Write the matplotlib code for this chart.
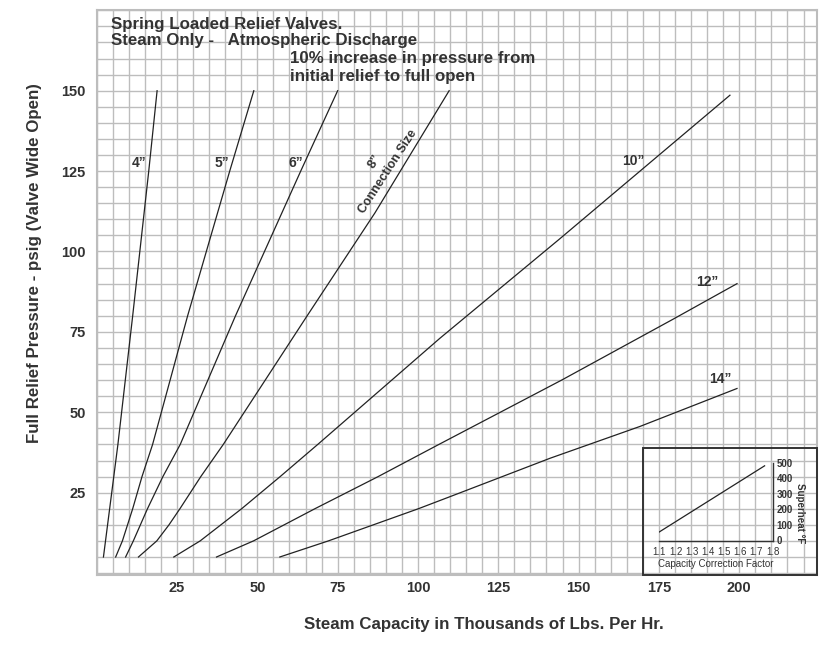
import matplotlib
matplotlib.use("Agg")
import matplotlib.pyplot as plt
from matplotlib.ticker import MultipleLocator, FixedLocator
from matplotlib.patches import Rectangle

plt.rcParams['font.family'] = ['Liberation Sans', 'DejaVu Sans']

# --- capacity curves: pressure (psig) vs steam capacity (1000 lb/hr) ---
p_4 = [5, 40, 80, 125, 150]
q_4 = [2.1, 6.6, 11.2, 16.2, 18.8]

p_5 = [5, 10, 15, 20, 30, 40, 80, 125, 150]
q_5 = [5.9, 8.0, 9.6, 11.2, 14.1, 17.4, 28.3, 41.4, 48.9]

p_6 = [5, 10, 15, 20, 30, 40, 80, 125, 150]
q_6 = [9.0, 11.4, 13.6, 15.8, 20.6, 26.0, 43.2, 63.5, 75.0]

p_8 = [5, 10, 15, 20, 30, 40, 80, 112, 150]
q_8 = [13.0, 18.7, 22.5, 25.9, 32.4, 39.4, 65.5, 86.6, 109.7]

p_10 = [5, 10, 20, 30, 40, 73, 104, 148.6]
q_10 = [24.0, 32.2, 45.1, 57.1, 68.8, 106.8, 144.2, 197.1]

p_12 = [5, 10, 20, 30, 40, 60, 79, 90]
q_12 = [37.3, 48.8, 67.9, 87.6, 106.5, 144.7, 179.5, 199.3]

p_14 = [5, 10, 15, 20, 24, 35.7, 45.6, 57.4]
q_14 = [57.0, 72.1, 86.1, 100.1, 110.6, 141.1, 169.1, 199.3]

curves = [(q_4, p_4), (q_5, p_5), (q_6, p_6), (q_8, p_8),
          (q_10, p_10), (q_12, p_12), (q_14, p_14)]

x_ticks = [25, 50, 75, 100, 125, 150, 175, 200]
y_ticks = [25, 50, 75, 100, 125, 150]

# size labels (text, x, y)
size_labels = [("4\u201d", 13.2, 127.4), ("5\u201d", 39.0, 127.4),
               ("6\u201d", 62.0, 127.4), ("10\u201d", 167.0, 128.0),
               ("12\u201d", 189.9, 90.4), ("14\u201d", 194.0, 60.2)]

# superheat inset
cf_ticks = [1.1, 1.2, 1.3, 1.4, 1.5, 1.6, 1.7, 1.8]
sh_ticks = [0, 100, 200, 300, 400, 500]
cf_line = [1.1, 1.75]
sh_line = [55, 480]

W, H = 827, 649
fig = plt.figure(figsize=(W / 100, H / 100), dpi=100)
fig.patch.set_facecolor('white')

def fx(px):
    return px / W

def fy(py):
    return 1 - py / H

ax = fig.add_axes([fx(96.7), fy(575), fx(817) - fx(96.7), fy(10) - fy(575)])
ax.set_xlim(0, 224.2)
ax.set_ylim(-0.6, 175.1)

grid_c = '#bdbdbd'
ax.xaxis.set_minor_locator(MultipleLocator(5))
ax.yaxis.set_minor_locator(MultipleLocator(5))
ax.xaxis.set_major_locator(FixedLocator(x_ticks))
ax.yaxis.set_major_locator(FixedLocator(y_ticks))
ax.grid(which='both', color=grid_c, lw=1.0)
ax.set_axisbelow(True)
ax.tick_params(which='both', length=0)
ax.tick_params(axis='x', pad=4, labelsize=10.5, labelcolor='#333333')
ax.tick_params(axis='y', pad=8, labelsize=10.5, labelcolor='#333333')
for lab in ax.get_xticklabels() + ax.get_yticklabels():
    lab.set_fontweight('bold')
for s in ax.spines.values():
    s.set_color(grid_c)
    s.set_linewidth(1.5)

for q, p in curves:
    ax.plot(q, p, color='#222222', lw=0.9)

for txt, x, y in size_labels:
    ax.text(x, y, txt, fontsize=10, fontweight='bold', color='#333333',
            ha='center', va='center')

ax.text(86.5, 128.0, "8\u201d", fontsize=9.5, fontweight='bold', color='#333333',
        ha='center', va='center', rotation=57)
ax.text(90.8, 124.8, "Connection Size", fontsize=9, fontweight='bold',
        color='#333333', ha='center', va='center', rotation=57)

# header notes
note_kw = dict(fontsize=12.2, fontweight='bold', color='#333333', va='baseline')
fig.text(fx(111), fy(28.5), "Spring Loaded Relief Valves.", **note_kw)
fig.text(fx(111), fy(45), "Steam Only -   Atmospheric Discharge", **note_kw)
fig.text(fx(290), fy(63.5), "10% increase in pressure from", **note_kw)
fig.text(fx(290), fy(81.5), "initial relief to full open", **note_kw)

fig.text(fx(35), fy(263), "Full Relief Pressure - psig (Valve Wide Open)",
         fontsize=12.2, fontweight='bold', color='#333333', rotation=90,
         ha='center', va='center')
fig.text(fx(484), fy(624), "Steam Capacity in Thousands of Lbs. Per Hr.",
         fontsize=12.2, fontweight='bold', color='#333333',
         ha='center', va='center')

# inset frame
ax.add_patch(Rectangle((170.0, -0.6), 54.2, 39.6, fill=False,
                       edgecolor='#333333', lw=1.4, clip_on=False, zorder=5))

ins = fig.add_axes([fx(659.3), fy(540.5), fx(772.7) - fx(659.3),
                    fy(462.7) - fy(540.5)])
ins.patch.set_alpha(0)
ins.set_xlim(1.1, 1.8)
ins.set_ylim(0, 480)
ins.plot(cf_line, sh_line, color='#222222', lw=0.9)
ins.set_xticks(cf_ticks)
ins.set_xticklabels([f"{v:.1f}" for v in cf_ticks])
ins.set_yticks(sh_ticks)
ins.yaxis.tick_right()
ins.tick_params(length=0, labelsize=7, labelcolor='#333333')
ins.tick_params(axis='x', pad=5)
ins.tick_params(axis='y', pad=3)
for lab in ins.get_yticklabels():
    lab.set_fontweight('bold')
for s in ['top', 'left']:
    ins.spines[s].set_visible(False)
for s in ['bottom', 'right']:
    ins.spines[s].set_color('#333333')
    ins.spines[s].set_linewidth(1.0)
ins.set_xlabel("Capacity Correction Factor", fontsize=7, color='#333333',
               labelpad=1)
ins.yaxis.set_label_position('right')
ins.set_ylabel("Superheat \u00b0F", fontsize=7, fontweight='bold',
               color='#333333', rotation=270, va='center')
ins.yaxis.set_label_coords(1.24, 0.35)

fig.savefig("out.png", dpi=100)
